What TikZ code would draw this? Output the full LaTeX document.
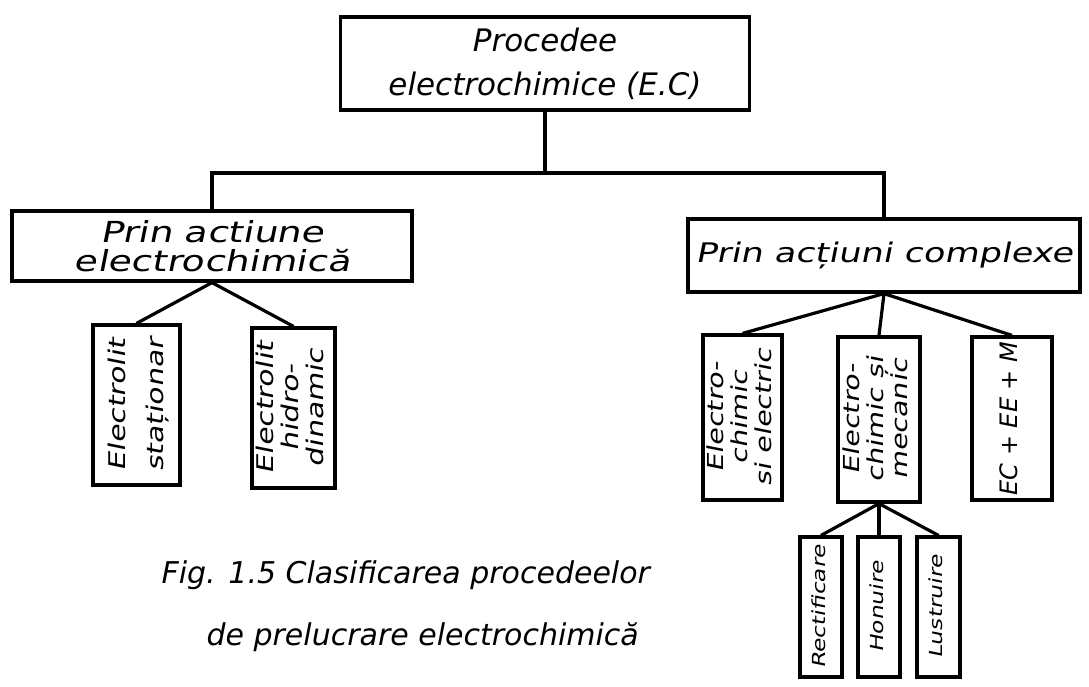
\documentclass[tikz,border=0pt]{standalone}
\usepackage{fontspec}
\setmainfont{DejaVu Sans}
\newfontfamily\widefont[FakeStretch=1.3, FakeSlant=0.2]{DejaVu Sans}
\usepackage{graphicx}

% rotated text, read from bottom to top
\newcommand{\uptext}[1]{\rotatebox{90}{\begin{tabular}{@{}c@{}}#1\end{tabular}}}

\begin{document}
\begin{tikzpicture}[x=1pt, y=-1pt, line width=3.2pt,
    box/.style={draw, inner sep=0pt, align=center, font=\widefont\fontsize{29}{29}\selectfont},
    upbox/.style={draw, inner sep=0pt, font=\widefont\fontsize{22}{24}\selectfont},
    smallbox/.style={upbox, minimum height=140, font=\widefont\fontsize{18}{20}\selectfont},
    caption/.style={anchor=west, inner sep=0pt, font=\itshape\fontsize{30}{32}\selectfont}]
    \useasboundingbox (0,0) rectangle (1089,686);

    % main levels
    \node[box, minimum width=409, minimum height=93, font=\itshape\fontsize{31}{44}\selectfont] (top) at (545, 63.5) {Procedee\\electrochimice (E.C)};
    \node[box, minimum width=400, minimum height=70] (left) at (212, 246) {Prin actiune\\electrochimică};
    \node[box, minimum width=392, minimum height=73, font=\widefont\fontsize{27}{30}\selectfont] (right) at (884, 255.5) {Prin acțiuni complexe};
    \coordinate (bus) at (545, 173);

    % under the left box
    \node[upbox, minimum width=87, minimum height=160, font=\widefont\fontsize{23}{38}\selectfont] (l1) at (136.5, 405) {\uptext{Electrolit\\staționar}};
    \node[upbox, minimum width=83, minimum height=160, font=\widefont\fontsize{23}{25}\selectfont] (l2) at (293.5, 408) {\uptext{Electrolit\\hidro-\\dinamic}};

    % under the right box
    \node[upbox, minimum width=79, minimum height=165] (ra) at (742.5, 417.5) {\uptext{Electro-\\chimic\\si electric}};
    \node[upbox, minimum width=82, minimum height=165] (rb) at (879, 419.5) {\uptext{Electro-\\chimic și\\mecanic}};
    \node[upbox, minimum width=80, minimum height=163, font=\itshape\fontsize{24}{28}\selectfont] (rc) at (1012, 418.5) {\uptext{EC + EE + M}};

    % under the middle one
    \node[smallbox, minimum width=42] (g1) at (821, 607) {\uptext{Rectificare}};
    \node[smallbox, minimum width=42] (g2) at (879, 607) {\uptext{Honuire}};
    \node[smallbox, minimum width=43] (g3) at (938.5, 607) {\uptext{Lustruire}};

    \draw (top.south) -- (bus);
    \draw (left.north) |- (bus) -| (right.north);
    \draw (left.south) -- (l1.north);
    \draw (left.south) -- (l2.north);
    \draw (right.south) -- (ra.north);
    \draw (right.south) -- (rb.north);
    \draw (right.south) -- (rc.north);
    \draw (rb.south) -- (g1.north);
    \draw (rb.south) -- (g2.north);
    \draw (rb.south) -- (g3.north);

    \node[caption] (cap1) at (160, 575) {Fig. 1.5 Clasificarea procedeelor};
    \node[caption] (cap2) at (205, 637) {de prelucrare electrochimică};
\end{tikzpicture}
\end{document}
